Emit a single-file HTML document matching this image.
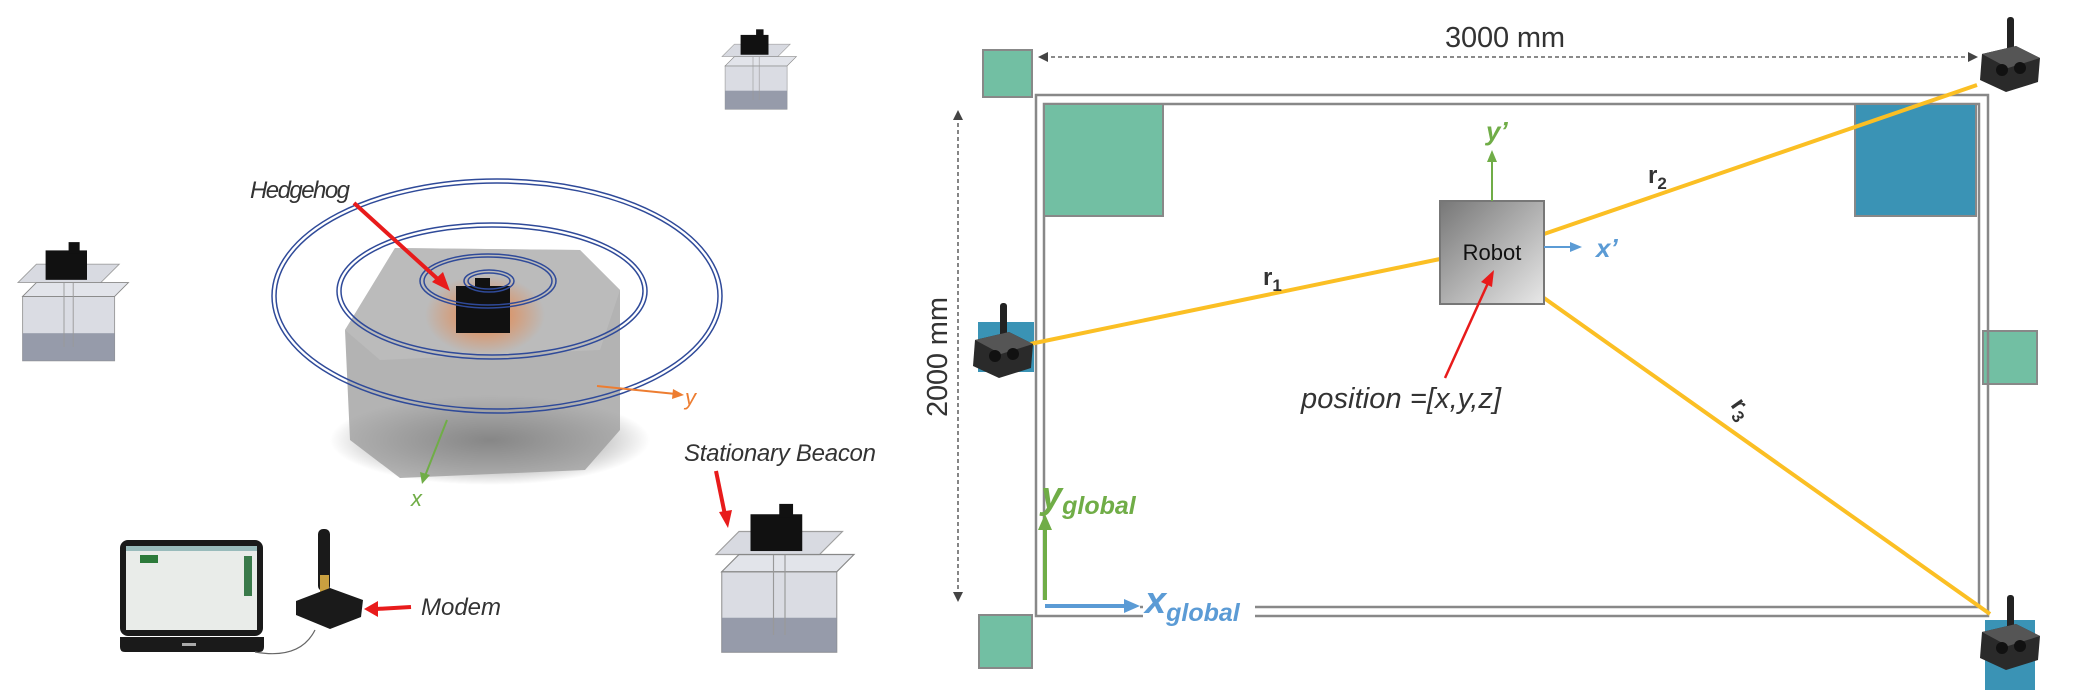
<!DOCTYPE html>
<html><head><meta charset="utf-8"><style>
html,body{margin:0;padding:0;background:#fff;}
svg{display:block;}
text{font-family:"Liberation Sans",sans-serif;}
</style></head><body>
<svg width="2074" height="696" viewBox="0 0 2074 696" xmlns="http://www.w3.org/2000/svg">
<defs>
<radialGradient id="glow" cx="50%" cy="50%" r="50%"><stop offset="0" stop-color="#f07a30" stop-opacity="0.9"/><stop offset="1" stop-color="#f07a30" stop-opacity="0"/></radialGradient>
<linearGradient id="rob" x1="0" y1="0" x2="1" y2="1"><stop offset="0" stop-color="#777"/><stop offset="1" stop-color="#e8e8e8"/></linearGradient>
<radialGradient id="shadow" cx="50%" cy="50%" r="50%"><stop offset="0" stop-color="#222" stop-opacity="0.8"/><stop offset="1" stop-color="#222" stop-opacity="0"/></radialGradient>
<g id="beacon">
 <rect x="-3" y="-45" width="7" height="38" rx="3" fill="#222"/>
 <polygon points="-28,-8 6,-16 30,-4 28,20 -4,30 -30,18" fill="#2a2a2a"/>
 <polygon points="-28,-8 6,-16 30,-4 -2,6" fill="#555"/>
 <circle cx="-8" cy="8" r="6" fill="#111"/><circle cx="10" cy="6" r="6" fill="#111"/>
</g>
<g id="stbeacon">
 <rect x="5" y="45" width="100" height="70" fill="#d4d7df" stroke="#888" opacity="0.85"/>
 <rect x="5" y="85" width="100" height="30" fill="#8a8fa0" opacity="0.85"/>
 <polygon points="5,45 105,45 120,30 20,30" fill="#e2e4ea" stroke="#888"/>
 <line x1="50" y1="30" x2="50" y2="100" stroke="#999"/><line x1="60" y1="30" x2="60" y2="100" stroke="#999"/>
 <polygon points="0,30 90,30 110,10 20,10" fill="#cfd2da" stroke="#888" opacity="0.8"/>
 <rect x="30" y="-5" width="45" height="32" fill="#111"/>
 <rect x="55" y="-14" width="12" height="12" fill="#111"/>
</g>
</defs>

<g transform="translate(722,38) scale(0.62)"><use href="#stbeacon"/></g>
<g transform="translate(18,255) scale(0.92)"><use href="#stbeacon"/></g>
<g transform="translate(716,520) scale(1.15)"><use href="#stbeacon"/></g>

<ellipse cx="490" cy="440" rx="160" ry="45" fill="url(#shadow)"/>
<polygon points="395,248 580,250 620,290 620,430 585,470 400,478 350,440 345,330" fill="#9a9a9a" opacity="0.75"/>
<polygon points="395,248 580,250 620,290 600,350 380,360 345,330" fill="#bdbdbd" opacity="0.8"/>
<ellipse cx="485" cy="315" rx="60" ry="40" fill="url(#glow)"/>
<rect x="456" y="286" width="54" height="47" fill="#111"/>
<rect x="475" y="278" width="15" height="12" fill="#111"/>
<g fill="none" stroke="#2f4a99" stroke-width="1.5">
<ellipse cx="497" cy="296" rx="225" ry="117"/><ellipse cx="497" cy="296" rx="221" ry="113"/>
<ellipse cx="492" cy="291" rx="155" ry="68"/><ellipse cx="492" cy="291" rx="151" ry="64"/>
<ellipse cx="488" cy="281" rx="68" ry="27"/><ellipse cx="488" cy="281" rx="64" ry="24"/>
<ellipse cx="489" cy="281" rx="25" ry="11"/><ellipse cx="489" cy="281" rx="21" ry="8"/>
</g>
<rect x="240" y="170" width="125" height="30" fill="#fff"/>
<text x="250" y="198" font-size="24" font-style="italic" fill="#333" textLength="100">Hedgehog</text>
<line x1="354" y1="203" x2="441" y2="282" stroke="#e81b1b" stroke-width="4"/>
<polygon points="450,291 432,282 443,272" fill="#e81b1b"/>
<line x1="597" y1="386" x2="676" y2="394" stroke="#ed7d31" stroke-width="2"/>
<polygon points="684,395 673,389 672,399" fill="#ed7d31"/>
<text x="685" y="405" font-size="22" font-style="italic" fill="#ed7d31">y</text>
<line x1="447" y1="420" x2="425" y2="476" stroke="#70ad47" stroke-width="2"/>
<polygon points="422,484 420,472 430,475" fill="#70ad47"/>
<text x="411" y="506" font-size="22" font-style="italic" fill="#70ad47">x</text>
<text x="684" y="461" font-size="24" font-style="italic" fill="#333" textLength="192">Stationary Beacon</text>
<line x1="716" y1="471" x2="725" y2="515" stroke="#e81b1b" stroke-width="4"/>
<polygon points="728,528 719,512 732,510" fill="#e81b1b"/>
<rect x="120" y="540" width="143" height="96" rx="8" fill="#1a1a1a"/>
<rect x="126" y="546" width="131" height="84" fill="#e9ece9"/>
<rect x="126" y="546" width="131" height="5" fill="#9bb"/>
<rect x="140" y="555" width="18" height="8" fill="#2c7a3a"/>
<rect x="244" y="556" width="8" height="40" fill="#3a7a4a"/>
<path d="M120,637 h144 v10 q0,5 -5,5 h-134 q-5,0 -5,-5z" fill="#1a1a1a"/>
<rect x="182" y="643" width="14" height="3" fill="#aaa"/>
<path d="M255,652 Q300,660 315,630" fill="none" stroke="#666" stroke-width="1.2"/>
<rect x="318" y="529" width="12" height="62" rx="5" fill="#1a1a1a"/>
<rect x="320" y="575" width="9" height="18" fill="#c9a040"/>
<polygon points="296,601 330,588 363,600 361,617 330,629 296,615" fill="#1a1a1a"/>
<text x="421" y="615" font-size="24" font-style="italic" fill="#333" textLength="80">Modem</text>
<line x1="411" y1="607" x2="376" y2="609" stroke="#e81b1b" stroke-width="4"/>
<polygon points="364,609 378,601 378,617" fill="#e81b1b"/>

<rect x="983" y="50" width="49" height="47" fill="#72bfa3" stroke="#888" stroke-width="2"/>
<rect x="979" y="615" width="53" height="53" fill="#72bfa3" stroke="#888" stroke-width="2"/>
<rect x="1983" y="331" width="54" height="53" fill="#72bfa3" stroke="#888" stroke-width="2"/>
<rect x="1036" y="95" width="952" height="521" fill="none" stroke="#888" stroke-width="2.5"/>
<rect x="1044" y="104" width="935" height="503" fill="none" stroke="#888" stroke-width="2.5"/>
<rect x="1044" y="104" width="119" height="112" fill="#72bfa3" stroke="#888" stroke-width="2"/>
<rect x="1855" y="104" width="121" height="112" fill="#3a93b5" stroke="#888" stroke-width="2"/>
<rect x="978" y="322" width="56" height="50" fill="#3a93b5"/>
<rect x="1985" y="620" width="50" height="70" fill="#3a93b5"/>
<line x1="1044" y1="57" x2="1970" y2="57" stroke="#444" stroke-width="1.3" stroke-dasharray="4,3"/>
<polygon points="1038,57 1048,52 1048,62" fill="#444"/>
<polygon points="1978,57 1968,52 1968,62" fill="#444"/>
<text x="1505" y="47" font-size="29" fill="#333" text-anchor="middle" textLength="120">3000 mm</text>
<line x1="958" y1="116" x2="958" y2="596" stroke="#444" stroke-width="1.3" stroke-dasharray="4,3"/>
<polygon points="958,110 953,120 963,120" fill="#444"/>
<polygon points="958,602 953,592 963,592" fill="#444"/>
<text transform="translate(947,357) rotate(-90)" font-size="29" fill="#333" text-anchor="middle" textLength="120">2000 mm</text>
<line x1="1045" y1="606" x2="1045" y2="528" stroke="#70ad47" stroke-width="4"/>
<polygon points="1045,514 1038,530 1052,530" fill="#70ad47"/>
<text x="1041" y="508" font-size="38" font-weight="bold" font-style="italic" fill="#70ad47">y<tspan font-size="25" dy="6">global</tspan></text>
<rect x="1040" y="600" width="100" height="12" fill="#fff"/>
<line x1="1045" y1="606" x2="1126" y2="606" stroke="#5b9bd5" stroke-width="4"/>
<polygon points="1140,606 1124,599 1124,613" fill="#5b9bd5"/>
<rect x="1143" y="588" width="112" height="40" fill="#fff"/>
<text x="1145" y="613" font-size="38" font-weight="bold" font-style="italic" fill="#5b9bd5">x<tspan font-size="25" dy="8">global</tspan></text>
<g stroke="#fbbf24" stroke-width="4">
<line x1="1030" y1="344" x2="1440" y2="259"/>
<line x1="1544" y1="234" x2="1977" y2="85"/>
<line x1="1544" y1="298" x2="1990" y2="614"/>
</g>
<rect x="1440" y="201" width="104" height="103" fill="url(#rob)" stroke="#777" stroke-width="2"/>
<text x="1492" y="260" font-size="22" fill="#111" text-anchor="middle">Robot</text>
<line x1="1492" y1="201" x2="1492" y2="160" stroke="#70ad47" stroke-width="2"/>
<polygon points="1492,150 1487,162 1497,162" fill="#70ad47"/>
<text x="1486" y="140" font-size="26" font-weight="bold" font-style="italic" fill="#70ad47">y’</text>
<line x1="1544" y1="247" x2="1572" y2="247" stroke="#5b9bd5" stroke-width="2"/>
<polygon points="1582,247 1570,242 1570,252" fill="#5b9bd5"/>
<text x="1596" y="257" font-size="26" font-weight="bold" font-style="italic" fill="#5b9bd5">x’</text>
<text x="1263" y="285" font-size="24" font-weight="bold" fill="#333">r<tspan font-size="17" dy="6">1</tspan></text>
<text x="1648" y="183" font-size="24" font-weight="bold" fill="#333">r<tspan font-size="17" dy="6">2</tspan></text>
<text transform="translate(1730,405) rotate(55)" font-size="24" font-weight="bold" fill="#333">r<tspan font-size="17" dy="6">3</tspan></text>
<line x1="1445" y1="378" x2="1488" y2="283" stroke="#e81b1b" stroke-width="2.5"/>
<polygon points="1494,270 1481,282 1492,287" fill="#e81b1b"/>
<text x="1301" y="408" font-size="29" font-style="italic" fill="#333" textLength="200">position =[x,y,z]</text>
<g transform="translate(1003,348)"><use href="#beacon"/></g>
<g transform="translate(2010,62)"><use href="#beacon"/></g>
<g transform="translate(2010,640)"><use href="#beacon"/></g>
</svg>
</body></html>
